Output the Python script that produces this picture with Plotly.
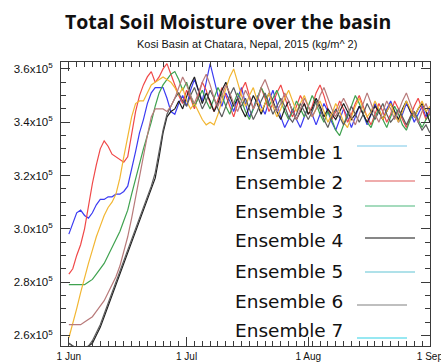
import numpy as np
import pandas as pd
import plotly.graph_objects as go

# Daily total soil moisture over the Kosi basin at Chatara, 1 Jun - 1 Sep 2015,
# in units of 10^5 kg/m^2, one list per ensemble member.
start_date = "2015-06-01"

ens1_blue = [2.98, 3.02, 3.06, 3.07, 3.05, 3.04, 3.06, 3.09, 3.11, 3.11, 3.12, 3.12, 3.13, 3.13,
             3.14, 3.16, 3.22, 3.29, 3.36, 3.41, 3.47, 3.51, 3.53, 3.53, 3.53, 3.49, 3.44, 3.43,
             3.47, 3.50, 3.46, 3.52, 3.56, 3.52, 3.48, 3.55, 3.62, 3.56, 3.50, 3.46, 3.51, 3.48,
             3.44, 3.49, 3.53, 3.47, 3.42, 3.45, 3.50, 3.46, 3.43, 3.48, 3.52, 3.47, 3.42, 3.38,
             3.41, 3.45, 3.41, 3.38, 3.42, 3.46, 3.43, 3.39, 3.43, 3.47, 3.44, 3.40, 3.37, 3.41,
             3.45, 3.42, 3.38, 3.42, 3.46, 3.43, 3.39, 3.43, 3.47, 3.44, 3.41, 3.45, 3.48, 3.44,
             3.40, 3.43, 3.47, 3.44, 3.40, 3.43, 3.46, 3.42, 3.45]

ens2_red = [2.83, 2.85, 2.90, 2.94, 3.00, 3.09, 3.17, 3.24, 3.30, 3.33, 3.31, 3.28, 3.27, 3.26,
            3.25, 3.27, 3.35, 3.44, 3.50, 3.54, 3.57, 3.59, 3.55, 3.57, 3.60, 3.62, 3.58, 3.54,
            3.50, 3.47, 3.52, 3.49, 3.45, 3.50, 3.55, 3.52, 3.47, 3.44, 3.49, 3.53, 3.50, 3.46,
            3.42, 3.47, 3.52, 3.55, 3.50, 3.45, 3.48, 3.53, 3.49, 3.44, 3.47, 3.51, 3.54, 3.49,
            3.45, 3.42, 3.46, 3.50, 3.47, 3.43, 3.46, 3.51, 3.54, 3.50, 3.45, 3.41, 3.44, 3.48,
            3.45, 3.40, 3.43, 3.47, 3.50, 3.46, 3.42, 3.39, 3.43, 3.47, 3.44, 3.40, 3.43, 3.48,
            3.45, 3.41, 3.38, 3.42, 3.46, 3.49, 3.45, 3.41, 3.44]

ens3_green = [2.79, 2.79, 2.79, 2.79, 2.79, 2.80, 2.81, 2.83, 2.85, 2.87, 2.90, 2.93, 2.96, 2.99,
              3.03, 3.07, 3.13, 3.19, 3.25, 3.30, 3.35, 3.40, 3.46, 3.51, 3.54, 3.56, 3.58, 3.59,
              3.56, 3.52, 3.55, 3.50, 3.46, 3.49, 3.52, 3.48, 3.45, 3.49, 3.53, 3.50, 3.46, 3.43,
              3.47, 3.51, 3.48, 3.44, 3.41, 3.45, 3.49, 3.53, 3.50, 3.46, 3.49, 3.52, 3.48, 3.44,
              3.41, 3.44, 3.48, 3.45, 3.42, 3.46, 3.50, 3.47, 3.43, 3.40, 3.44, 3.41, 3.37, 3.35,
              3.39, 3.43, 3.46, 3.50, 3.47, 3.43, 3.40, 3.38, 3.42, 3.45, 3.41, 3.38, 3.42, 3.46,
              3.43, 3.39, 3.37, 3.41, 3.44, 3.41, 3.38, 3.41, 3.43]

ens4_black = [2.57, 2.56, 2.55, 2.55, 2.55, 2.56, 2.57, 2.60, 2.63, 2.67, 2.71, 2.75, 2.79, 2.83,
              2.87, 2.91, 2.95, 2.99, 3.03, 3.07, 3.11, 3.15, 3.19, 3.27, 3.36, 3.42, 3.44, 3.45,
              3.48, 3.45, 3.50, 3.54, 3.57, 3.52, 3.47, 3.51, 3.48, 3.44, 3.47, 3.52, 3.55, 3.50,
              3.46, 3.49, 3.45, 3.42, 3.46, 3.50, 3.47, 3.43, 3.47, 3.51, 3.48, 3.44, 3.41, 3.45,
              3.48, 3.44, 3.41, 3.44, 3.47, 3.43, 3.45, 3.49, 3.46, 3.42, 3.45, 3.43, 3.41, 3.44,
              3.47, 3.44, 3.41, 3.43, 3.46, 3.43, 3.40, 3.43, 3.46, 3.44, 3.41, 3.44, 3.47, 3.44,
              3.41, 3.45, 3.48, 3.44, 3.42, 3.45, 3.47, 3.44, 3.40]

ens5_yellow = [2.59, 2.64, 2.70, 2.76, 2.82, 2.87, 2.92, 2.97, 3.01, 3.05, 3.08, 3.10, 3.13, 3.19,
               3.27, 3.35, 3.42, 3.47, 3.48, 3.48, 3.51, 3.54, 3.55, 3.56, 3.57, 3.56, 3.55, 3.53,
               3.50, 3.53, 3.48, 3.45, 3.47, 3.44, 3.41, 3.39, 3.40, 3.39, 3.43, 3.48, 3.53, 3.57,
               3.60, 3.55, 3.50, 3.46, 3.50, 3.53, 3.48, 3.44, 3.47, 3.51, 3.46, 3.42, 3.45, 3.49,
               3.52, 3.48, 3.44, 3.47, 3.50, 3.46, 3.42, 3.45, 3.48, 3.44, 3.40, 3.43, 3.47, 3.44,
               3.40, 3.38, 3.42, 3.46, 3.49, 3.45, 3.42, 3.44, 3.48, 3.45, 3.41, 3.44, 3.47, 3.43,
               3.40, 3.44, 3.48, 3.45, 3.42, 3.45, 3.48, 3.44, 3.46]

ens6_gray = [2.57, 2.56, 2.55, 2.55, 2.55, 2.56, 2.58, 2.61, 2.64, 2.68, 2.72, 2.76, 2.80, 2.84,
             2.88, 2.92, 2.96, 3.00, 3.04, 3.08, 3.12, 3.16, 3.21, 3.29, 3.37, 3.43, 3.46, 3.49,
             3.51, 3.48, 3.46, 3.50, 3.53, 3.49, 3.45, 3.48, 3.52, 3.49, 3.45, 3.42, 3.46, 3.50,
             3.53, 3.49, 3.46, 3.49, 3.45, 3.41, 3.44, 3.48, 3.51, 3.47, 3.43, 3.46, 3.49, 3.46,
             3.42, 3.40, 3.43, 3.47, 3.44, 3.41, 3.44, 3.48, 3.45, 3.41, 3.38, 3.42, 3.45, 3.42,
             3.39, 3.42, 3.46, 3.43, 3.40, 3.43, 3.47, 3.44, 3.41, 3.44, 3.47, 3.43, 3.40, 3.42,
             3.45, 3.42, 3.39, 3.42, 3.44, 3.40, 3.37, 3.39, 3.36]

ens7_mauve = [2.64, 2.64, 2.64, 2.64, 2.65, 2.66, 2.67, 2.69, 2.71, 2.73, 2.76, 2.79, 2.82, 2.86,
              2.91, 2.97, 3.04, 3.12, 3.20, 3.28, 3.35, 3.42, 3.45, 3.45, 3.45, 3.44, 3.46, 3.49,
              3.53, 3.57, 3.54, 3.50, 3.47, 3.51, 3.55, 3.58, 3.54, 3.49, 3.46, 3.50, 3.54, 3.51,
              3.47, 3.44, 3.48, 3.52, 3.49, 3.45, 3.48, 3.53, 3.56, 3.52, 3.47, 3.44, 3.47, 3.51,
              3.48, 3.44, 3.41, 3.45, 3.49, 3.46, 3.42, 3.45, 3.50, 3.53, 3.49, 3.45, 3.42, 3.46,
              3.49, 3.46, 3.42, 3.39, 3.43, 3.47, 3.51, 3.47, 3.43, 3.40, 3.44, 3.48, 3.45, 3.41,
              3.44, 3.48, 3.51, 3.47, 3.43, 3.40, 3.44, 3.47, 3.43]

ensemble_names = ["Ensemble 1", "Ensemble 2", "Ensemble 3", "Ensemble 4",
                  "Ensemble 5", "Ensemble 6", "Ensemble 7"]
series = [ens1_blue, ens2_red, ens3_green, ens4_black, ens5_yellow, ens6_gray, ens7_mauve]
line_colors = ["#3b3bf2", "#f04848", "#3fa24f", "#1e1e1e", "#f2b632", "#5c5c5c", "#b87a7a"]
key_colors = ["#78c8e8", "#e05a5a", "#4cb87c", "#111111", "#60c4d4", "#808080", "#30d2e6"]

ytick_vals = [2.6, 2.8, 3.0, 3.2, 3.4, 3.6]
ytick_text = [f"{v:.1f}x10<sup>5</sup>" for v in ytick_vals]
xtick_vals = ["2015-06-01", "2015-07-01", "2015-08-01", "2015-09-01"]
xtick_text = ["1 Jun", "1 Jul", "1 Aug", "1 Sep"]

W, H = 441, 362
ML, MR, MT, MB = 61, 11, 62, 16
PW, PH = W - ML - MR, H - MT - MB


def px_x(x):
    return (x - ML) / PW


def px_y(y):
    return (H - MB - y) / PH


fig = go.Figure()
for name, vals, color in zip(ensemble_names, series, line_colors):
    dates = pd.date_range(start_date, periods=len(vals), freq="D")
    fig.add_trace(go.Scatter(
        x=dates, y=np.array(vals) * 1e5, mode="lines", name=name,
        line=dict(color=color, width=1.2), showlegend=False,
    ))

axis_common = dict(
    showline=True, linecolor="#3a3a3a", linewidth=1, mirror="ticks",
    ticks="inside", tickcolor="#3a3a3a", tickwidth=1, ticklen=9,
    showgrid=False, zeroline=False, ticklabeloverflow="allow",
)

fig.update_xaxes(
    **axis_common,
    type="date", range=["2015-05-30", "2015-09-01 00:30"],
    tickvals=xtick_vals, ticktext=xtick_text, ticklabelstandoff=1,
    tickfont=dict(family="Liberation Sans", size=10, color="#111"),
    minor=dict(ticks="inside", ticklen=5, tickcolor="#3a3a3a",
               dtick=2 * 86400000, tick0="2015-06-01"),
)
fig.update_yaxes(
    **axis_common,
    range=[2.56e5, 3.626e5],
    tickvals=[v * 1e5 for v in ytick_vals], ticktext=ytick_text, ticklabelstandoff=5,
    tickfont=dict(family="Liberation Sans", size=11.5, color="#111"),
    minor=dict(ticks="inside", ticklen=5, tickcolor="#3a3a3a", dtick=5000),
)

# Key: label on the left, line sample on the right of each entry
key_text_y = [152, 182, 211, 241, 271, 301, 330]
key_line_y = [146, 181, 206, 238, 272, 305, 338]
key_line_x = [(357, 407), (365, 415), (365, 415), (365, 415), (365, 415), (357, 407), (357, 407)]
for name, color, ty, ly, (x0, x1) in zip(ensemble_names, key_colors, key_text_y, key_line_y, key_line_x):
    fig.add_annotation(
        x=px_x(233), y=px_y(ty), xref="paper", yref="paper", text=name,
        showarrow=False, xanchor="left", yanchor="middle",
        font=dict(family="DejaVu Sans", size=18.5, color="#111"),
    )
    fig.add_shape(type="line", xref="paper", yref="paper",
                  x0=px_x(x0), x1=px_x(x1), y0=px_y(ly), y1=px_y(ly),
                  line=dict(color=color, width=1.2))

fig.add_annotation(
    x=px_x(228), y=px_y(22), xref="paper", yref="paper",
    text="<b>Total Soil Moisture over the basin</b>", showarrow=False,
    xanchor="center", yanchor="middle",
    font=dict(family="Open Sans", size=19.5, color="#111"),
)
fig.add_annotation(
    x=px_x(247), y=px_y(44), xref="paper", yref="paper",
    text="Kosi Basin at Chatara, Nepal, 2015 (kg/m^ 2)", showarrow=False,
    xanchor="center", yanchor="middle",
    font=dict(family="Liberation Sans", size=11, color="#111"),
)

fig.update_layout(
    width=W, height=H,
    margin=dict(l=ML, r=MR, t=MT, b=MB, autoexpand=False),
    paper_bgcolor="white", plot_bgcolor="white",
    showlegend=False,
)

fig.write_html("out.html")
